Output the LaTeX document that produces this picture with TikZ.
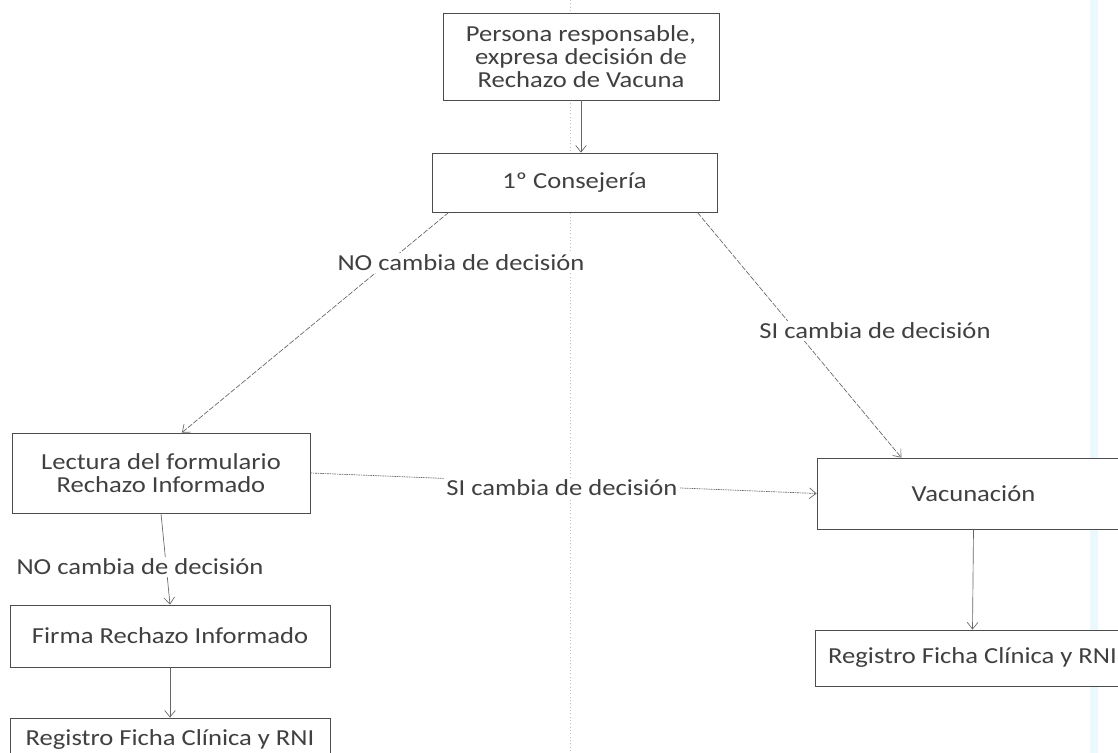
\documentclass[tikz,border=0pt]{standalone}
\usepackage{fontspec}
\setmainfont{Carlito}[FakeStretch=1.16]
\usetikzlibrary{arrows.meta,calc}
\begin{document}
\begin{tikzpicture}[x=0.75pt,y=-0.75pt,
  txt/.style={font=\fontsize{17.2}{17.5}\selectfont, text=black!75},
  box/.style={txt, draw=black!70, line width=0.6pt, fill=white, inner sep=0pt, align=center},
  lbl/.style={txt, fill=white, inner sep=1.5pt},
  conn/.style={draw=black!60, line width=0.5pt, -{Straight Barb[length=5pt,width=8pt]}},
  diag/.style={conn, dash pattern=on 4pt off 1.2pt},
  hdot/.style={conn, dash pattern=on 1.2pt off 0.6pt}
]
\useasboundingbox (0,0) rectangle (1118,753);
\clip (0,0) rectangle (1118,753);
\fill[white] (0,0) rectangle (1118,753);
\fill[cyan!8] (1090,0) rectangle (1098,753);
\draw[black!25, dotted, line width=0.5pt] (570,0) -- (570,753);

\node[box, minimum width=207pt, minimum height=65.25pt] (top) at (581,56.5)
  {Persona responsable,\\expresa decisión de\\Rechazo de Vacuna};
\node[box, minimum width=213.75pt, minimum height=44.25pt] (cons) at (574.5,182.5) {1º Consejería};
\node[box, minimum width=223.5pt, minimum height=60pt] (lect) at (161,473)
  {Lectura del formulario\\Rechazo Informado};
\node[box, minimum width=234.75pt, minimum height=53.25pt] (vac) at (973.5,493.5) {Vacunación};
\node[box, minimum width=240pt, minimum height=46.5pt] (firma) at (170,636) {Firma Rechazo Informado};
\node[box, minimum width=240pt, minimum height=33pt] (regL) at (170,740) {Registro Ficha Clínica y RNI};
\node[box, minimum width=236.25pt, minimum height=42pt] (regR) at (972.5,658) {Registro Ficha Clínica y RNI};

\draw[conn] (top.south) -- (top.south |- cons.north);
\draw[diag] ($(cons.south west)!0.06!(cons.south east)$) -- ($(lect.north west)!0.57!(lect.north east)$);
\draw[diag] ($(cons.south west)!0.93!(cons.south east)$) -- ($(vac.north west)!0.27!(vac.north east)$);
\draw[hdot] (lect.east) -- (vac.west);
\draw[conn] (lect.south) -- (firma.north);
\draw[conn] (firma.south) -- (regL.north);
\draw[conn] (vac.south) -- (regR.north);

\node[lbl] (l1) at (461,263) {NO cambia de decisión};
\node[lbl] (l2) at (875,331) {SI cambia de decisión};
\node[lbl] (l3) at (562,488) {SI cambia de decisión};
\node[lbl] (l4) at (140,567) {NO cambia de decisión};
\end{tikzpicture}
\end{document}
